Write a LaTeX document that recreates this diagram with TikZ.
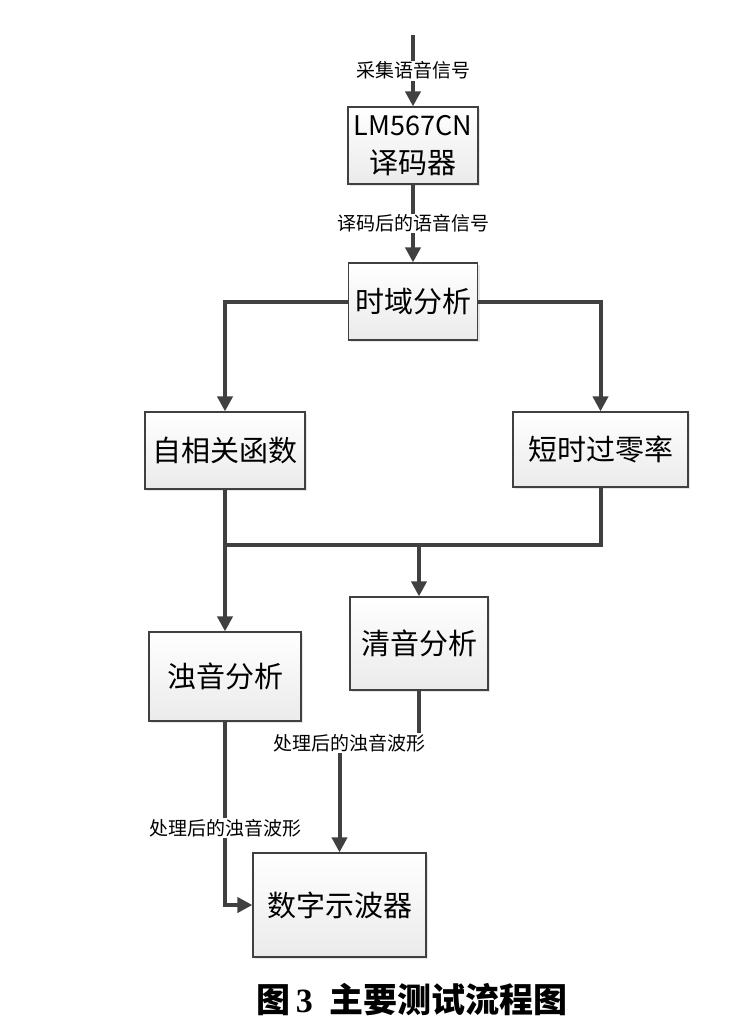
\documentclass[tikz,border=0pt]{standalone}
\usepackage{fontspec}
\usepackage{tikz}
\usetikzlibrary{arrows.meta,shadows}
\newfontfamily\cjk{Noto Sans CJK SC}
\newfontfamily\numfont{Liberation Serif}
\definecolor{wiregray}{HTML}{404040}

\begin{document}
\begin{tikzpicture}[x=1pt, y=-1pt, every node/.style={font=\cjk},
  block/.style={draw=wiregray, line width=1.2pt, top color=white, bottom color=black!8, drop shadow={opacity=0.2, shadow xshift=2pt, shadow yshift=-2pt}, font=\cjk\fontsize{29}{38}\selectfont, align=center, inner sep=0pt},
  lbl/.style={fill=white, inner sep=1pt, font=\cjk\fontsize{19}{22}\selectfont},
  flow/.style={draw=wiregray, line width=4pt},
  arr/.style={flow, -{Triangle[width=15pt,length=15pt]}}]
  \useasboundingbox (0,0) rectangle (740,1027);
  \node[block, minimum width=130pt, minimum height=77pt] (dec) at (413,145.5) {{\fontsize{27}{38}\selectfont LM567CN}\\译码器};
  \node[block, minimum width=129pt, minimum height=77pt] (time) at (413,301.5) {时域分析};
  \node[block, minimum width=160pt, minimum height=77pt] (auto) at (225,450.5) {自相关函数};
  \node[block, minimum width=175pt, minimum height=75pt] (zcr) at (600.5,449.5) {短时过零率};
  \node[block, minimum width=138pt, minimum height=93pt] (qing) at (419,643.5) {清音分析};
  \node[block, minimum width=152pt, minimum height=89pt] (zhuo) at (225,676.5) {浊音分析};
  \node[block, minimum width=173pt, minimum height=104pt] (osc) at (339.5,905) {数字示波器};
  \coordinate (src) at (413,35);
  \coordinate (mergeY) at (0,545);
  % top chain
  \draw[arr] (src) -- node[lbl]{采集语音信号} (dec.north);
  \draw[arr] (dec) -- node[lbl]{译码后的语音信号} (time);
  \draw[arr] (time.west) -| (auto.north);
  \draw[arr] (time.east) -| (zcr.north);
  % merge
  \draw[flow] (zcr.south) |- (auto.south |- mergeY);
  \draw[arr] (auto.south) -- (zhuo.north);
  \draw[arr] (qing.north |- mergeY) -- (qing.north);
  % to oscilloscope
  \draw[arr] (zhuo.south) |- node[lbl, pos=0.29]{处理后的浊音波形} (osc.west);
  \node[lbl] (wave2) at (349,743) {处理后的浊音波形};
  \draw[flow] (qing.south) -- (qing.south |- wave2.north);
  \draw[arr] (osc.north |- wave2.south) -- (osc.north);
  \node[font=\cjk\bfseries\fontsize{34}{40}\selectfont] (caption) at (412,1000) {图\,{\numfont\bfseries 3}\hspace{0.5em}主要测试流程图};
\end{tikzpicture}
\end{document}
